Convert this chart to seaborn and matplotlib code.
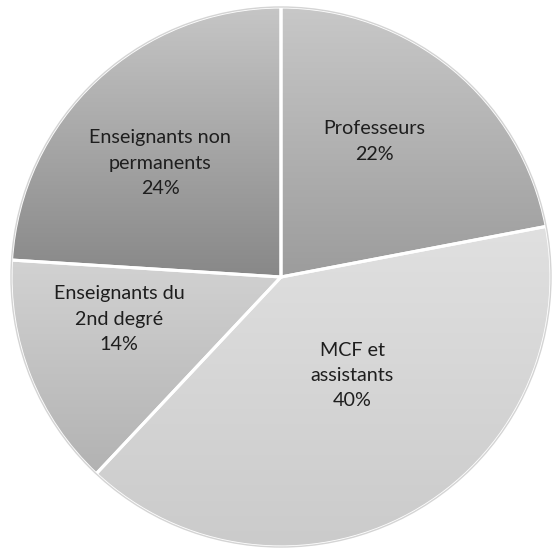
import numpy as np
import matplotlib
matplotlib.use("Agg")
import matplotlib.pyplot as plt
import seaborn as sns

# ---------------------------
# Data
# ---------------------------
categories = ["Professeurs", "MCF et assistants", "Enseignants du 2nd degré",
              "Enseignants non permanents"]
shares = [22, 40, 14, 24]
label_text = ["Professeurs", "MCF et\nassistants", "Enseignants du\n2nd degré",
              "Enseignants non\npermanents"]

# gradient fill (top colour, bottom colour) per slice
top_colors = ["#c8c8c8", "#e0e0e0", "#d2d2d2", "#c6c6c6"]
bottom_colors = ["#9c9c9c", "#cbcbcb", "#b2b2b2", "#888888"]

# label placement tweaks: radius fraction and angle shift (deg)
label_r = [0.61, 0.45, 0.62, 0.615]
label_shift = [5, 7, -7, 3.5]

sns.set_theme(style="white")
plt.rcParams["font.family"] = ["Lato", "DejaVu Sans"]

fig = plt.figure(figsize=(5.54, 5.53), dpi=100)
ax = fig.add_axes([0, 0, 1, 1])

wedges, _ = ax.pie(
    shares,
    startangle=90,
    counterclock=False,
    colors=["none"] * len(shares),
    wedgeprops=dict(edgecolor="white", linewidth=2.2, zorder=3),
)

# gradient fill clipped to each wedge
grad = np.linspace(0, 1, 256).reshape(-1, 1)
for w, c_top, c_bot in zip(wedges, top_colors, bottom_colors):
    bb = w.get_path().get_extents()
    cmap = matplotlib.colors.LinearSegmentedColormap.from_list("g", [c_top, c_bot])
    im = ax.imshow(grad, cmap=cmap, aspect="auto", origin="upper",
                   extent=[bb.x0, bb.x1, bb.y0, bb.y1], zorder=1)
    im.set_clip_path(w)

# thin outline round the pie
ax.add_patch(plt.Circle((0, 0), 1.0, fill=False, edgecolor="#d4d4d4",
                        linewidth=1.0, zorder=4))

# labels
for w, txt, pct, r, dth in zip(wedges, label_text, shares, label_r, label_shift):
    mid = np.deg2rad((w.theta1 + w.theta2) / 2 + dth)
    ax.text(r * np.cos(mid), r * np.sin(mid), f"{txt}\n{pct}%",
            ha="center", va="center", fontsize=14.2, color="#1e1e1e",
            linespacing=1.6, zorder=5)

# pixel-matched limits (center at ~281,277 px, radius ~270 px)
ax.set_aspect("auto")
ax.set_xlim(-281 / 270, (554 - 281) / 270)
ax.set_ylim(-(553 - 277) / 270, 277 / 270)
ax.axis("off")

fig.savefig("out.png", dpi=100, facecolor="white")
